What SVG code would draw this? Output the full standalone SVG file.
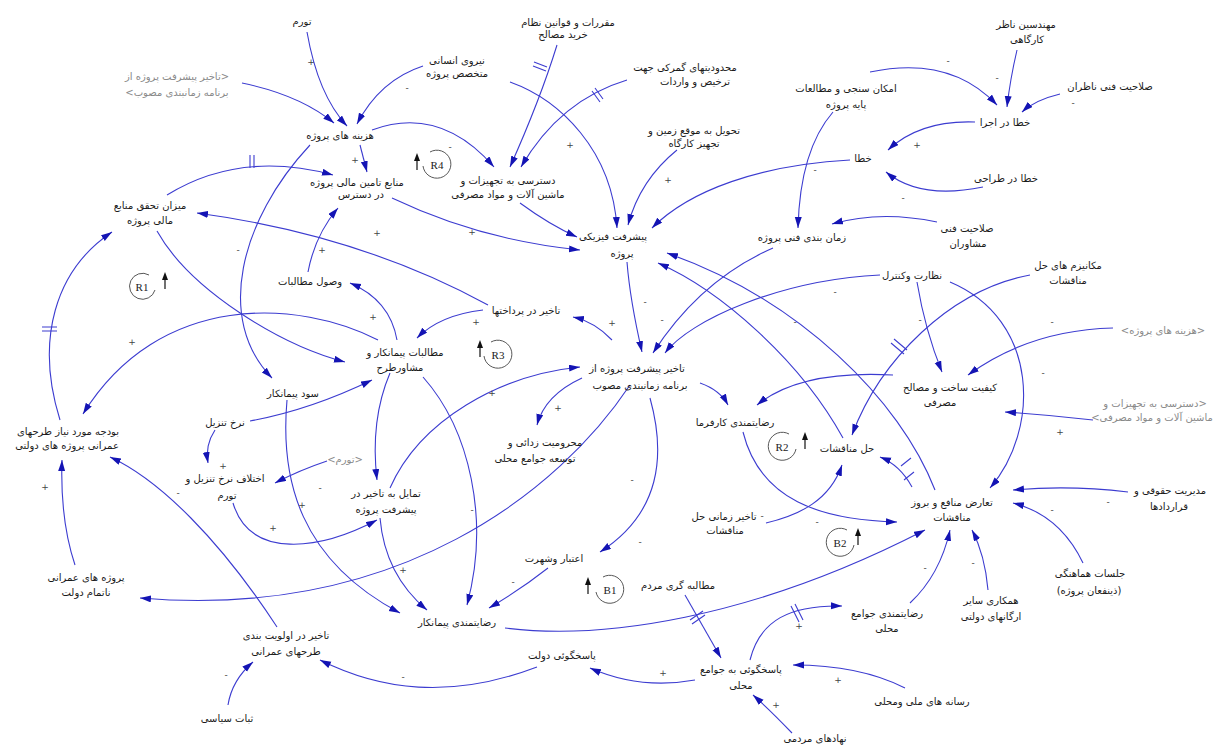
<svg xmlns="http://www.w3.org/2000/svg" width="1230" height="747" viewBox="0 0 1230 747">
<style>
.t{font-family:"DejaVu Sans","Noto Sans",sans-serif;font-size:10px;fill:#1a1a1a;text-anchor:middle;direction:rtl}
.g{fill:#8a8a8a}
.p{font-family:"DejaVu Sans",sans-serif;font-size:9px;fill:#444;text-anchor:middle}
.c path{fill:none;stroke:#3c3cd0;stroke-width:1.1;marker-end:url(#ah)}
.d{fill:none;stroke:#3c3cd0;stroke-width:1.1}
.lp{fill:none;stroke:#444;stroke-width:0.9}
.ll{font-family:"Liberation Serif",serif;font-size:11px;fill:#222;text-anchor:middle}
.la{fill:#111;stroke:#111;stroke-width:1.2}
</style>
<defs>
<marker id="ah" markerUnits="userSpaceOnUse" markerWidth="12" markerHeight="8" refX="11" refY="3.5" orient="auto">
<path d="M0,0 L11,3.5 L0,7 z" fill="#1414b4"/>
</marker>
</defs>
<rect width="1230" height="747" fill="#fff"/>

<g class="c" id="connectors">
<path d="M307,32 Q318,95 347,126"/>
<path d="M242,83 Q300,95 334,123"/>
<path d="M423,66 Q380,80 357,124"/>
<path d="M510,82 C560,100 612,150 617,228"/>
<path d="M557,45 Q540,100 510,167"/>
<path d="M627,80 Q560,100 521,167"/>
<path d="M372,130 Q440,105 494,167"/>
<path d="M360,145 L367,172"/>
<path d="M310,145 C240,220 215,320 272,378"/>
<path d="M167,195 Q240,150 333,175"/>
<path d="M157,231 C190,290 280,345 345,362"/>
<path d="M60,420 C35,340 55,270 112,232"/>
<path d="M378,340 C300,300 160,290 83,414"/>
<path d="M488,305 Q360,235 197,213"/>
<path d="M308,272 Q315,235 338,208"/>
<path d="M397,340 Q390,300 350,283"/>
<path d="M483,310 Q440,315 417,338"/>
<path d="M612,340 Q595,322 573,317"/>
<path d="M392,198 Q480,240 580,250"/>
<path d="M520,203 Q550,225 577,237"/>
<path d="M677,150 Q640,180 628,225"/>
<path d="M850,160 C760,165 690,190 652,228"/>
<path d="M833,112 Q800,150 798,228"/>
<path d="M870,72 Q950,55 997,105"/>
<path d="M1017,50 Q1010,80 1007,107"/>
<path d="M1060,94 Q1035,100 1022,112"/>
<path d="M975,122 Q920,120 888,150"/>
<path d="M983,187 Q920,200 886,172"/>
<path d="M937,222 Q880,210 832,224"/>
<path d="M627,262 Q630,300 642,352"/>
<path d="M773,248 Q700,280 653,353"/>
<path d="M880,275 C780,280 690,320 665,353"/>
<path d="M935,490 C900,400 800,300 667,253"/>
<path d="M843,438 C800,360 720,290 658,263"/>
<path d="M917,282 Q925,330 942,372"/>
<path d="M950,282 C1040,320 1040,430 990,488"/>
<path d="M1030,275 C950,290 880,360 852,435"/>
<path d="M1113,328 Q1030,330 968,375"/>
<path d="M1093,420 Q1050,415 1005,412"/>
<path d="M893,375 Q800,370 757,405"/>
<path d="M700,383 Q720,390 728,405"/>
<path d="M582,378 Q545,395 537,425"/>
<path d="M650,398 C670,470 650,520 600,552"/>
<path d="M630,385 C560,490 400,620 140,598"/>
<path d="M390,488 C420,420 500,375 580,367"/>
<path d="M390,373 Q370,420 377,480"/>
<path d="M380,518 Q385,575 427,610"/>
<path d="M423,377 C470,430 490,520 467,605"/>
<path d="M548,568 Q520,590 489,608"/>
<path d="M287,400 C280,480 300,560 400,613"/>
<path d="M250,421 Q310,410 372,380"/>
<path d="M215,430 Q205,445 208,463"/>
<path d="M327,461 Q300,470 275,483"/>
<path d="M233,503 C250,560 320,550 377,520"/>
<path d="M277,627 C220,540 160,480 110,457"/>
<path d="M75,565 Q60,520 62,460"/>
<path d="M228,705 Q232,680 253,662"/>
<path d="M537,667 C450,700 380,690 320,660"/>
<path d="M695,680 Q640,690 590,668"/>
<path d="M685,595 L721,658"/>
<path d="M750,660 C760,620 790,605 842,606"/>
<path d="M905,688 Q860,665 793,665"/>
<path d="M792,733 Q770,710 753,695"/>
<path d="M505,628 C600,640 750,620 925,530"/>
<path d="M743,432 C760,500 820,520 897,522"/>
<path d="M766,523 C800,515 830,500 842,465"/>
<path d="M912,487 Q900,465 880,457"/>
<path d="M1128,492 Q1070,485 1013,490"/>
<path d="M1083,563 Q1060,515 1013,503"/>
<path d="M988,590 Q985,555 972,530"/>
<path d="M910,603 Q940,575 950,530"/>
</g>

<g id="delays">
<path class="d" d="M534,62 L547,67 M533,66 L546,71"/>
<path class="d" d="M595,88 L603,99 M592,91 L600,102"/>
<path class="d" d="M250,155 L250,168 M254,155 L254,168"/>
<path class="d" d="M42,327 L57,327 M42,331 L57,331"/>
<path class="d" d="M894,339 L907,350 M891,343 L904,354"/>
<path class="d" d="M901,466 L911,458 M904,480 L914,472"/>
<path class="d" d="M791,606 L799,622 M795,604 L803,620"/>
<path class="d" d="M690,620 L703,611 M692,624 L705,615"/>
</g>

<g id="polarities">
<text class="p" x="311" y="65">+</text>
<text class="p" x="407" y="91">-</text>
<text class="p" x="570" y="148">+</text>
<text class="p" x="450" y="150">-</text>
<text class="p" x="355" y="163">+</text>
<text class="p" x="238" y="253">-</text>
<text class="p" x="132" y="345">+</text>
<text class="p" x="322" y="253">+</text>
<text class="p" x="373" y="320">+</text>
<text class="p" x="476" y="325">+</text>
<text class="p" x="377" y="236">+</text>
<text class="p" x="472" y="235">+</text>
<text class="p" x="668" y="183">+</text>
<text class="p" x="815" y="173">-</text>
<text class="p" x="948" y="64">-</text>
<text class="p" x="997" y="81">-</text>
<text class="p" x="1073" y="106">-</text>
<text class="p" x="917" y="148">+</text>
<text class="p" x="903" y="201">-</text>
<text class="p" x="645" y="305">-</text>
<text class="p" x="662" y="323">-</text>
<text class="p" x="612" y="326">+</text>
<text class="p" x="835" y="295">-</text>
<text class="p" x="795" y="325">-</text>
<text class="p" x="1043" y="376">-</text>
<text class="p" x="920" y="323">-</text>
<text class="p" x="1052" y="325">-</text>
<text class="p" x="1060" y="435">+</text>
<text class="p" x="558" y="411">+</text>
<text class="p" x="632" y="483">-</text>
<text class="p" x="640" y="545">-</text>
<text class="p" x="492" y="396">+</text>
<text class="p" x="403" y="573">+</text>
<text class="p" x="472" y="513">-</text>
<text class="p" x="513" y="585">-</text>
<text class="p" x="302" y="508">+</text>
<text class="p" x="223" y="469">+</text>
<text class="p" x="320" y="491">-</text>
<text class="p" x="273" y="531">+</text>
<text class="p" x="178" y="496">-</text>
<text class="p" x="45" y="490">+</text>
<text class="p" x="226" y="678">-</text>
<text class="p" x="403" y="680">-</text>
<text class="p" x="663" y="676">+</text>
<text class="p" x="799" y="629">+</text>
<text class="p" x="838" y="683">+</text>
<text class="p" x="776" y="708">+</text>
<text class="p" x="817" y="525">-</text>
<text class="p" x="762" y="519">-</text>
<text class="p" x="1108" y="505">-</text>
<text class="p" x="1052" y="513">-</text>
<text class="p" x="973" y="566">-</text>
<text class="p" x="925" y="571">-</text>
</g>

<g id="loops">
<g id="loop-R4"><path class="lp" d="M430,152 A14,14 0 1 1 423,166"/><text class="ll" x="437" y="169">R4</text><path class="la" d="M417,170 L417,160"/><path d="M414,161 L417,153 L420,161 z" fill="#111"/></g>
<g id="loop-R1"><path class="lp" d="M149,275 A13,13 0 1 0 155,290"/><text class="ll" x="142" y="291">R1</text><path class="la" d="M165,289 L165,279"/><path d="M162,280 L165,272 L168,280 z" fill="#111"/></g>
<g id="loop-R3"><path class="lp" d="M491,342 A14,14 0 1 1 484,356"/><text class="ll" x="498" y="359">R3</text><path class="la" d="M480,357 L480,347"/><path d="M477,348 L480,340 L483,348 z" fill="#111"/></g>
<g id="loop-R2"><path class="lp" d="M789,434 A14,14 0 1 0 796,449"/><text class="ll" x="782" y="451">R2</text><path class="la" d="M805,449 L805,439"/><path d="M802,440 L805,432 L808,440 z" fill="#111"/></g>
<g id="loop-B2"><path class="lp" d="M847,530 A14,14 0 1 0 854,545"/><text class="ll" x="840" y="547">B2</text><path class="la" d="M858,545 L858,535"/><path d="M855,536 L858,528 L861,536 z" fill="#111"/></g>
<g id="loop-B1"><path class="lp" d="M603,577 A14,14 0 1 1 596,592"/><text class="ll" x="610" y="594">B1</text><path class="la" d="M588,594 L588,584"/><path d="M585,585 L588,577 L591,585 z" fill="#111"/></g>
</g>

<g id="n01"><text class="t" x="302" y="25">تورم</text></g>
<g id="n02"><text class="t" x="457" y="64">نیروی انسانی</text><text class="t" x="457" y="77">متخصص پروژه</text></g>
<g id="n03"><text class="t" x="568" y="26">مقررات و قوانین نظام</text><text class="t" x="563" y="38">خرید مصالح</text></g>
<g id="n04"><text class="t" x="685" y="71">محدودیتهای گمرکی جهت</text><text class="t" x="695" y="85">ترخیص و واردات</text></g>
<g id="n05"><text class="t" x="1026" y="28">مهندسین ناظر</text><text class="t" x="1027" y="43">کارگاهی</text></g>
<g id="n06"><text class="t" x="1110" y="90">صلاحیت فنی ناظران</text></g>
<g id="n07"><text class="t" x="846" y="92">امکان سنجی و مطالعات</text><text class="t" x="846" y="108">پایه پروژه</text></g>
<g id="n08"><text class="t" x="1005" y="126">خطا در اجرا</text></g>
<g id="n09"><text class="t" x="694" y="134">تحویل به موقع زمین و</text><text class="t" x="694" y="147">تجهیز کارگاه</text></g>
<g id="n10"><text class="t" x="863" y="162">خطا</text></g>
<g id="n11"><text class="t" x="1006" y="182">خطا در طراحی</text></g>
<g id="n12"><text class="t g" x="177" y="80">&lt;تاخیر پیشرفت پروژه از</text><text class="t g" x="177" y="96">برنامه زمانبندی مصوب&gt;</text></g>
<g id="n13"><text class="t" x="340" y="139">هزینه های پروژه</text></g>
<g id="n14"><text class="t" x="357" y="186">منابع تامین مالی پروژه</text><text class="t" x="361" y="198">در دسترس</text></g>
<g id="n15"><text class="t" x="508" y="184">دسترسی به تجهیزات و</text><text class="t" x="508" y="198">ماشین آلات و مواد مصرفی</text></g>
<g id="n16"><text class="t" x="150" y="209">میزان تحقق منابع</text><text class="t" x="150" y="224">مالی پروژه</text></g>
<g id="n17"><text class="t" x="613" y="240">پیشرفت فیزیکی</text><text class="t" x="622" y="257">پروژه</text></g>
<g id="n18"><text class="t" x="967" y="232">صلاحیت فنی</text><text class="t" x="968" y="247">مشاوران</text></g>
<g id="n19"><text class="t" x="802" y="241">زمان بندی فنی پروژه</text></g>
<g id="n20"><text class="t" x="912" y="279">نظارت وکنترل</text></g>
<g id="n21"><text class="t" x="1068" y="269">مکانیزم های حل</text><text class="t" x="1068" y="284">مناقشات</text></g>
<g id="n22"><text class="t" x="310" y="285">وصول مطالبات</text></g>
<g id="n23"><text class="t" x="526" y="314">تاخیر در پرداختها</text></g>
<g id="n24"><text class="t" x="405" y="356">مطالبات پیمانکار و</text><text class="t" x="400" y="371">مشاورطرح</text></g>
<g id="n25"><text class="t" x="637" y="372">تاخیر پیشرفت پروژه از</text><text class="t" x="640" y="389">برنامه زمانبندی مصوب</text></g>
<g id="n26"><text class="t g" x="1163" y="334">&lt;هزینه های پروژه&gt;</text></g>
<g id="n27"><text class="t" x="950" y="391">کیفیت ساخت و مصالح</text><text class="t" x="940" y="406">مصرفی</text></g>
<g id="n28"><text class="t g" x="1155" y="407">&lt;دسترسی به تجهیزات و</text><text class="t g" x="1152" y="421">ماشین آلات و مواد مصرفی&gt;</text></g>
<g id="n29"><text class="t" x="293" y="397">سود پیمانکار</text></g>
<g id="n30"><text class="t" x="735" y="426">رضایتمندی کارفرما</text></g>
<g id="n31"><text class="t" x="225" y="426">نرخ تنزیل</text></g>
<g id="n32"><text class="t" x="68" y="435">بودجه مورد نیاز طرحهای</text><text class="t" x="67" y="449">عمرانی پروژه های دولتی</text></g>
<g id="n33"><text class="t" x="847" y="452">حل مناقشات</text></g>
<g id="n34"><text class="t" x="545" y="446">محرومیت زدائی و</text><text class="t" x="535" y="462">توسعه جوامع محلی</text></g>
<g id="n35"><text class="t g" x="345" y="463">&lt;تورم&gt;</text></g>
<g id="n36"><text class="t" x="225" y="482">اختلاف نرخ تنزیل و</text><text class="t" x="227" y="499">تورم</text></g>
<g id="n37"><text class="t" x="386" y="497">تمایل به تاخیر در</text><text class="t" x="386" y="513">پیشرفت پروژه</text></g>
<g id="n38"><text class="t" x="724" y="520">تاخیر زمانی حل</text><text class="t" x="725" y="534">مناقشات</text></g>
<g id="n39"><text class="t" x="952" y="506">تعارض منافع و بروز</text><text class="t" x="952" y="521">مناقشات</text></g>
<g id="n40"><text class="t" x="1170" y="494">مدیریت حقوقی و</text><text class="t" x="1169" y="510">قراردادها</text></g>
<g id="n41"><text class="t" x="554" y="562">اعتبار وشهرت</text></g>
<g id="n42"><text class="t" x="86" y="581">پروژه های عمرانی</text><text class="t" x="86" y="596">ناتمام دولت</text></g>
<g id="n43"><text class="t" x="678" y="589">مطالبه گری مردم</text></g>
<g id="n44"><text class="t" x="1090" y="577">جلسات هماهنگی</text><text class="t" x="1089" y="594">(ذینفعان پروژه)</text></g>
<g id="n45"><text class="t" x="457" y="626">رضایتمندی پیمانکار</text></g>
<g id="n46"><text class="t" x="887" y="617">رضایتمندی جوامع</text><text class="t" x="887" y="632">محلی</text></g>
<g id="n47"><text class="t" x="991" y="604">همکاری سایر</text><text class="t" x="991" y="620">ارگانهای دولتی</text></g>
<g id="n48"><text class="t" x="286" y="639">تاخیر در اولویت بندی</text><text class="t" x="286" y="655">طرحهای عمرانی</text></g>
<g id="n49"><text class="t" x="562" y="659">پاسخگوئی دولت</text></g>
<g id="n50"><text class="t" x="741" y="673">پاسخگوئی به جوامع</text><text class="t" x="741" y="689">محلی</text></g>
<g id="n51"><text class="t" x="922" y="705">رسانه های ملی ومحلی</text></g>
<g id="n52"><text class="t" x="227" y="722">ثبات سیاسی</text></g>
<g id="n53"><text class="t" x="815" y="742">نهادهای مردمی</text></g>
</svg>
